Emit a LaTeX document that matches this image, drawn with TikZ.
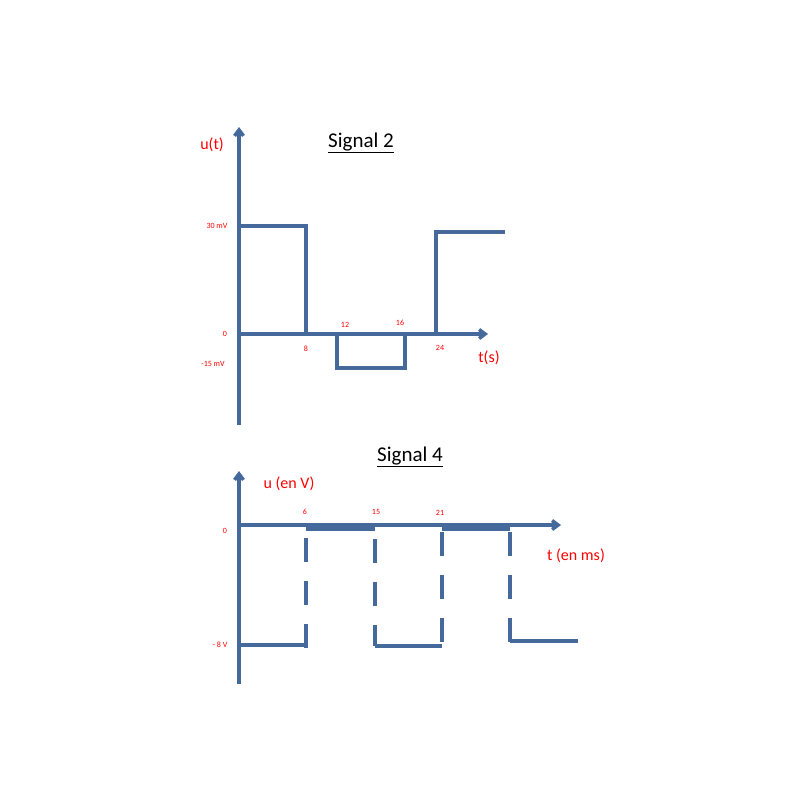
\documentclass[tikz,border=0pt]{standalone}
\usepackage{fontspec}
\setmainfont{Carlito}
\usetikzlibrary{arrows.meta}
\definecolor{sig}{HTML}{46699C}
\definecolor{lab}{HTML}{FF0000}
\begin{document}
\begin{tikzpicture}[x=1pt,y=-1pt,
  wave/.style={draw=sig,line width=3.5pt,line join=miter},
  axis/.style={wave,-{Straight Barb[length=6pt,width=9pt]}},
  dsh/.style={wave,dash pattern=on 24pt off 19pt},
  small/.style={text=lab,font=\fontsize{8}{8}\selectfont,inner sep=0pt},
  big/.style={text=lab,font=\fontsize{16}{16}\selectfont,inner sep=0pt},
  title/.style={font=\fontsize{21}{21}\selectfont,inner sep=0pt}]
\useasboundingbox (0,0) rectangle (800,800);
% Signal 2
\coordinate (a0) at (239,425); \coordinate (a1) at (239,127);
\coordinate (b0) at (239,334); \coordinate (b1) at (488,334);
\draw[axis] (a0) -- (a1);
\draw[axis] (b0) -- (b1);
\draw[wave] (239,226) -- (306,226) -- (306,334);
\draw[wave] (337,334) -- (337,368) -- (405,368) -- (405,334);
\draw[wave] (436,334) -- (436,232) -- (505,232);
\node[big] (ut) at (212,145) {u(t)};
\node[title] (s2) at (361,143) {\underline{Signal 2}};
\node[small] (l30) at (217,226) {30 mV};
\node[small] (l0) at (225,334) {0};
\node[small] (l15) at (213,364) {-15 mV};
\node[small] (l8) at (306,349) {8};
\node[small] (l12) at (345,325) {12};
\node[small] (l16) at (400,323) {16};
\node[small] (l24) at (440,348) {24};
\node[big] (ts) at (489,358) {t(s)};
% Signal 4
\coordinate (c0) at (239,684); \coordinate (c1) at (239,471);
\coordinate (d0) at (239,525); \coordinate (d1) at (561,525);
\draw[axis] (c0) -- (c1);
\draw[axis] (d0) -- (d1);
\draw[wave] (239,645) -- (306,645);
\draw[dsh] (306,538) -- (306,648);
\draw[wave] (306,529) -- (375,529);
\draw[dsh] (375,539) -- (375,646);
\draw[wave] (375,646) -- (442,646);
\draw[dsh] (442,532) -- (442,645);
\draw[wave] (442,529) -- (510,529);
\draw[dsh] (510,532) -- (510,643);
\draw[wave] (510,641) -- (578,641);
\node[big] (uv) at (289,484) {u (en V)};
\node[title] (s4) at (410,457) {\underline{Signal 4}};
\node[small] (m0) at (225,531) {0};
\node[small] (m8) at (220,645) {- 8 V};
\node[small] (m6) at (305,512) {6};
\node[small] (m15) at (376,512) {15};
\node[small] (m21) at (440,513) {21};
\node[big] (tms) at (576,556) {t (en ms)};
\end{tikzpicture}
\end{document}
